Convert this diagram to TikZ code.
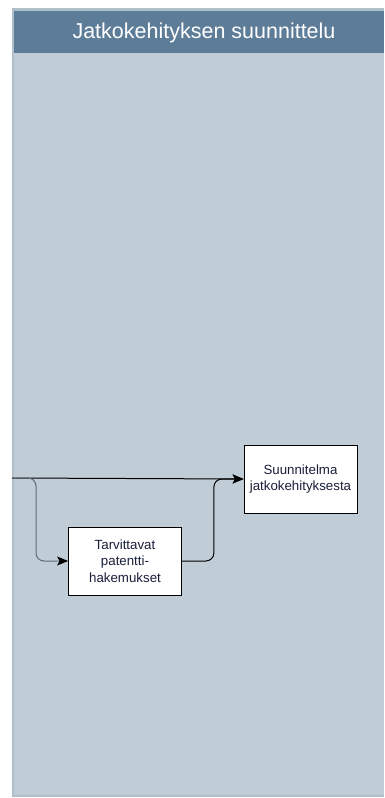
\documentclass[tikz,border=0pt]{standalone}
\usepackage{fontspec}
\setmainfont{Liberation Sans}
\usetikzlibrary{arrows.meta}
\definecolor{lanehead}{HTML}{5D7C98}
\definecolor{lanebody}{HTML}{C0CDD7}
\definecolor{laneedge}{HTML}{AFBECB}
\definecolor{boxtext}{HTML}{1A1F3A}
\definecolor{branchline}{HTML}{5F6A74}
\begin{document}
\begin{tikzpicture}[x=1pt,y=-1pt,
  taskbox/.style={draw=black, fill=white, line width=0.8pt,
    minimum width=113pt, minimum height=68pt, align=center,
    font=\fontsize{13.3}{16.5}\selectfont, text=boxtext, inner sep=0pt},
  flow/.style={-{Stealth[length=11pt,width=9pt,inset=2.5pt,color=black]},
    line width=1pt, rounded corners=8pt},
  branch/.style={flow, draw=branchline}]
\useasboundingbox (0,0) rectangle (384,798);
\fill[white] (0,0) rectangle (384,798);
% swimlane
\fill[laneedge] (12,8) rectangle (384,797);
\fill[lanebody] (14,53) rectangle (384,795);
\fill[lanehead] (14,11) rectangle (384,53);
\node[text=white, font=\fontsize{21.5}{24}\selectfont] (title) at (204,32.5)
  {Jatkokehityksen suunnittelu};
% tasks
\node[taskbox] (plan) at (300.5,479) {Suunnitelma\\jatkokehityksesta};
\node[taskbox] (patent) at (125,561) {Tarvittavat\\patentti-\\hakemukset};
\coordinate (in) at (12,478);
% connectors
\draw[flow] (in) -- (plan.west);
\draw[branch] (in) -- ++(24,0) |- (patent.west);
\draw[flow] (patent.east) -- ++(32,0) |- (plan.west);
\end{tikzpicture}
\end{document}
